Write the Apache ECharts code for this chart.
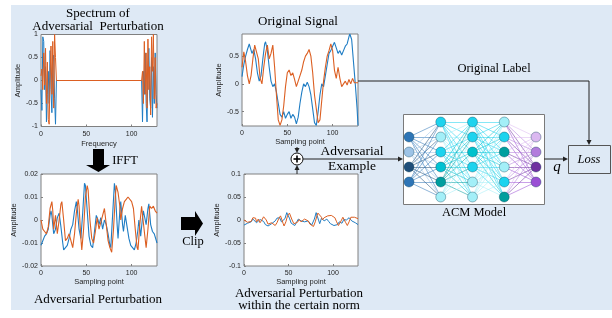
<!DOCTYPE html>
<html>
<head>
<meta charset="utf-8">
<script src="https://cdn.jsdelivr.net/npm/echarts@6/dist/echarts.min.js"></script>
<style>
body { margin: 0; background: #fff; }
#main { width: 612px; height: 318px; }
</style>
</head>
<body>
<div id="main"></div>
<script>
// spectrum of the perturbation, [bin, amplitude]
var specBlue = [[0,-0.2],[1,-0.65],[2,0.95],[3,0.85],[4,-0.2],[5,0.3],[6,-0.9],[7,-0.3],[8,0.2],[9,-0.5],[10,0.65],[11,-0.2],[12,-0.7],[13,0.4],[14,0.55],[15,-0.4],[16,-0.95],[17,0],
  [111,0],[112,-0.9],[113,0.2],[114,-0.3],[115,0.6],[116,-0.5],[117,-0.9],[118,0.2],[119,0.7],[120,-0.4],[121,-0.6],[122,0.5],[123,-0.8],[124,0.3],[125,-0.5],[126,0.6],[127,-0.3],[128,-0.6]];
var specOrange = [[0,0.1],[1,0.25],[2,-0.2],[3,0.6],[4,-0.1],[5,0.7],[6,-0.5],[7,0.4],[8,-0.85],[9,-0.95],[10,0.1],[11,0.75],[12,-0.3],[13,0.85],[14,-0.6],[15,1.0],[16,0.5],[17,0],
  [111,0],[112,0.2],[113,-0.5],[114,0.85],[115,-0.3],[116,0.6],[117,-0.6],[118,0.9],[119,-0.2],[120,0.3],[121,-0.75],[122,0.95],[123,0.2],[124,1.0],[125,-0.4],[126,0.5],[127,-0.6],[128,-0.5]];

// perturbation after IFFT (clip leaves it unchanged)
var pertBlue = [[0,-0.011],[2,-0.009],[4,-0.007],[6,-0.006],[8,-0.004],[10,0.002],[11,0.004],[12,0.002],[14,-0.006],[16,-0.004],[18,0.001],[20,0.003],[22,-0.003],[24,-0.01],[25,-0.013],[27,-0.013],[29,-0.011],[31,-0.008],[33,-0.004],[35,-0.002],[37,0.004],[39,0.008],[40,0.005],[42,-0.004],[44,-0.008],[46,0.003],[48,0.016],[49,0.015],[51,0.004],[53,-0.007],[55,-0.011],[57,-0.012],[59,-0.005],[61,0.002],[63,0.0],[64,-0.002],[66,0.001],[68,-0.004],[70,0.0],[72,-0.002],[74,-0.006],[76,-0.011],[77,-0.012],[79,0.002],[81,0.016],[82,0.013],[84,-0.002],[85,-0.008],[87,0.004],[88,0.008],[90,-0.002],[91,-0.005],[93,0.002],[95,-0.003],[97,-0.008],[99,-0.011],[101,-0.012],[103,-0.013],[105,-0.01],[107,-0.004],[108,0.0],[110,-0.007],[112,0.001],[113,0.004],[115,0.0],[116,-0.002],[118,0.005],[119,0.007],[121,-0.002],[123,-0.005],[125,-0.006],[128,-0.01]];
var pertOrange = [[0,0.0],[2,-0.004],[4,-0.005],[6,-0.006],[8,-0.003],[10,0.005],[12,0.008],[13,0.004],[14,-0.004],[16,0.002],[18,-0.006],[20,0.0],[22,0.007],[23,0.008],[25,0.0],[27,-0.009],[29,-0.008],[31,-0.006],[33,-0.009],[35,-0.012],[37,-0.006],[39,0.003],[41,0.009],[42,0.006],[44,-0.008],[45,-0.013],[47,-0.004],[49,0.01],[51,0.015],[52,0.013],[54,0.0],[56,-0.008],[58,-0.01],[60,-0.005],[62,0.001],[64,-0.004],[66,-0.001],[68,0.002],[70,0.005],[72,-0.002],[74,-0.009],[76,-0.012],[78,-0.014],[80,-0.004],[82,0.01],[83,0.015],[85,0.012],[87,0.006],[88,0.0],[90,0.005],[92,0.008],[94,0.009],[96,0.01],[98,0.01],[100,0.008],[102,0.005],[104,-0.004],[106,-0.012],[107,-0.013],[109,-0.002],[111,0.006],[112,0.006],[114,-0.005],[116,-0.012],[118,-0.004],[120,0.006],[122,0.005],[124,0.006],[126,0.004],[128,0.003]];

// original signal
var sigBlue = [[0,0.13],[2,0.35],[4,0.5],[6,0.62],[8,0.72],[9,0.7],[11,0.55],[13,0.62],[15,0.45],[17,0.2],[19,0.05],[21,0.15],[23,0.45],[25,0.72],[26,0.76],[28,0.6],[30,0.3],[32,0.05],[34,-0.05],[36,0.0],[38,-0.15],[40,-0.35],[42,-0.55],[44,-0.6],[46,-0.5],[48,-0.62],[50,-0.55],[52,-0.5],[54,-0.62],[56,-0.55],[58,-0.6],[60,-0.72],[62,-0.6],[64,-0.35],[66,-0.15],[68,0.0],[70,-0.05],[72,0.03],[74,-0.05],[76,-0.2],[78,-0.45],[80,-0.7],[82,-0.75],[84,-0.5],[86,-0.2],[88,0.0],[90,-0.05],[92,0.15],[94,0.35],[96,0.55],[98,0.6],[100,0.68],[102,0.75],[104,0.65],[106,0.55],[108,0.6],[110,0.52],[112,0.6],[114,0.68],[116,0.72],[118,0.85],[119,0.9],[121,0.8],[123,0.4],[125,0.0],[127,-0.45],[128,-0.75]];
var sigOrange = [[0,0.3],[2,0.58],[4,0.4],[6,0.15],[8,0.0],[10,0.15],[12,0.45],[14,0.7],[16,0.72],[18,0.45],[20,0.1],[22,0.0],[24,0.3],[26,0.55],[28,0.7],[30,0.45],[32,0.55],[34,0.7],[36,0.3],[38,-0.2],[40,-0.65],[42,-0.75],[44,-0.65],[46,-0.4],[48,-0.05],[50,0.2],[52,0.25],[54,0.15],[56,0.2],[58,0.08],[60,-0.05],[62,0.05],[64,0.15],[66,0.25],[68,0.4],[70,0.5],[72,0.55],[74,0.62],[76,0.5],[78,0.2],[80,-0.2],[82,-0.45],[84,-0.7],[86,-0.65],[88,-0.3],[90,0.05],[92,0.3],[94,0.5],[96,0.6],[98,0.72],[100,0.6],[102,0.25],[104,0.1],[106,0.3],[108,0.1],[110,-0.05],[112,0.0],[114,0.05],[116,-0.02],[118,0.08],[120,0.0],[122,0.1],[124,0.02],[126,0.05],[128,0.02]];

var xTicks = [0, 50, 100];

// ACM model node colours per layer
var layers = [
  ['#2e75b6', '#9dc3e6', '#1f4e79', '#2e75b6'],
  ['#1dd3ee', '#a3eff8', '#1dd3ee', '#00c2d2', '#009e9e', '#a3eff8'],
  ['#1dd3ee', '#1dd3ee', '#00c2cc', '#1dd3ee', '#a3eff8', '#a3eff8'],
  ['#a3eff8', '#1dd3ee', '#009e9e', '#a3eff8', '#1dd3ee', '#009e9e'],
  ['#dbb8f0', '#b27cdc', '#7030a0', '#9a4fd4']
];

var BLUE = '#1f7dc4', ORANGE = '#dc5f22';
var tickFont = 'Liberation Sans';

function xAx(grid, name, gap) {
  return {
    type: 'value', gridIndex: grid, min: 0, max: 128,
    name: name, nameLocation: 'middle', nameGap: gap,
    nameTextStyle: { fontSize: 7.5, color: '#262626', fontFamily: tickFont },
    axisLine: { show: false, onZero: false },
    axisTick: { inside: true, length: 2, customValues: xTicks, lineStyle: { color: '#808080' } },
    axisLabel: { customValues: xTicks, fontSize: 7, color: '#262626', margin: 4, fontFamily: tickFont },
    splitLine: { show: false }
  };
}
function yAx(grid, min, max, ticks, gap) {
  return {
    type: 'value', gridIndex: grid, min: min, max: max,
    name: 'Amplitude', nameLocation: 'middle', nameGap: gap, nameRotate: 90,
    nameTextStyle: { fontSize: 7.5, color: '#262626', fontFamily: tickFont },
    axisLine: { show: false, onZero: false },
    axisTick: { inside: true, length: 2, customValues: ticks, lineStyle: { color: '#808080' } },
    axisLabel: { customValues: ticks, fontSize: 7, color: '#262626', margin: 3, fontFamily: tickFont },
    splitLine: { show: false }
  };
}
function sig(idx, data, color, width) {
  return { type: 'line', xAxisIndex: idx, yAxisIndex: idx, data: data, showSymbol: false, symbol: 'none',
    smooth: false, lineStyle: { color: color, width: width }, silent: true, animation: false };
}

// network nodes / edges
var nodes = [], edges = [];
layers.forEach(function (cols, l) {
  cols.forEach(function (c, i) {
    nodes.push({ value: [l, i - (cols.length - 1) / 2], itemStyle: { color: c } });
  });
});
for (var l = 0; l < layers.length - 1; l++) {
  var a = layers[l], b = layers[l + 1];
  for (var i = 0; i < a.length; i++) {
    for (var j = 0; j < b.length; j++) {
      var c = l < 3 ? a[i] : b[j];
      edges.push({ coords: [[l, i - (a.length - 1) / 2], [l + 1, j - (b.length - 1) / 2]],
        lineStyle: { color: c, opacity: 0.6, width: 0.9 } });
    }
  }
}

function txt(x, y, s, size, extra) {
  var st = { text: s, font: (extra || '') + ' ' + size + 'px "Liberation Serif"', fill: '#000',
    textAlign: 'center', textVerticalAlign: 'middle', align: 'center', verticalAlign: 'middle' };
  return { type: 'text', x: x, y: y, style: st, z: 5 };
}
function line(pts) {
  return { type: 'polyline', shape: { points: pts }, style: { stroke: '#222', lineWidth: 1, fill: null }, z: 5 };
}
function head(x, y, dir) {
  var p;
  if (dir === 'down') p = [[x, y], [x - 2.5, y - 5], [x + 2.5, y - 5]];
  else if (dir === 'up') p = [[x, y], [x - 2.5, y + 5], [x + 2.5, y + 5]];
  else p = [[x, y], [x - 5, y - 2.5], [x - 5, y + 2.5]];
  return { type: 'polygon', shape: { points: p }, style: { fill: '#222' }, z: 5 };
}

var graphics = [
  { type: 'rect', shape: { x: 11, y: 5, width: 601, height: 305 }, style: { fill: '#dee9f5' }, z: -10 },
  { type: 'rect', shape: { x: 403.5, y: 114.5, width: 141, height: 90 }, style: { fill: '#fff', stroke: '#7a7a7a', lineWidth: 1 }, z: -5 },
  { type: 'rect', shape: { x: 568.5, y: 145.5, width: 42, height: 28 }, style: { fill: '#dee9f5', stroke: '#555', lineWidth: 1 }, z: 4 },
  // IFFT arrow
  { type: 'polygon', shape: { points: [[93,149],[104,149],[104,165],[110,165],[98.5,172],[86,165],[93,165]] }, style: { fill: '#000' }, z: 5 },
  // Clip arrow
  { type: 'polygon', shape: { points: [[181,217],[195,217],[195,211],[203,223.5],[195,236],[195,230],[181,230]] }, style: { fill: '#000' }, z: 5 },
  txt(98, 14, 'Spectrum of', 13),
  txt(98, 27, 'Adversarial  Perturbation', 13),
  txt(125, 161, 'IFFT', 12.5),
  txt(98, 300, 'Adversarial Perturbation', 13),
  txt(193, 242, 'Clip', 12.5),
  txt(298, 22, 'Original Signal', 13),
  txt(352, 151, 'Adversarial', 13.5),
  txt(352, 166, 'Example', 13.5),
  txt(299, 294, 'Adversarial Perturbation', 13),
  txt(299, 306, 'within the certain norm', 13),
  txt(494, 69, 'Original Label', 12.5),
  txt(474, 213, 'ACM Model', 12.5),
  txt(589, 160, 'Loss', 12.5, 'italic'),
  txt(557, 167, 'q', 15, 'italic'),
  // original label path
  line([[358, 81], [589, 81], [589, 140]]), head(589, 145, 'down'),
  // into the adder
  line([[297, 147], [297, 149]]), head(297, 153, 'down'),
  line([[297, 174], [297, 170]]), head(297, 165, 'up'),
  // adversarial example -> model -> loss
  line([[303, 159], [398, 159]]), head(403, 159, 'right'),
  line([[544, 159], [563, 159]]), head(568, 159, 'right'),
  { type: 'circle', shape: { cx: 297, cy: 159, r: 6 }, style: { fill: '#fff', stroke: '#111', lineWidth: 1 }, z: 5 },
  { type: 'line', shape: { x1: 293.5, y1: 159, x2: 300.5, y2: 159 }, style: { stroke: '#000', lineWidth: 1.6 }, z: 6 },
  { type: 'line', shape: { x1: 297, y1: 155.5, x2: 297, y2: 162.5 }, style: { stroke: '#000', lineWidth: 1.6 }, z: 6 }
];

var gridStyle = { show: true, backgroundColor: '#fff', borderColor: '#808080', borderWidth: 1 };
var chart = echarts.init(document.getElementById('main'));
chart.setOption({
  animation: false,
  graphic: graphics,
  grid: [
    Object.assign({ left: 41, top: 34.5, width: 116, height: 92 }, gridStyle),
    Object.assign({ left: 41, top: 174, width: 116, height: 92 }, gridStyle),
    Object.assign({ left: 242, top: 34, width: 116, height: 92 }, gridStyle),
    Object.assign({ left: 244, top: 174, width: 114, height: 92 }, gridStyle),
    { left: 409, top: 122, width: 127, height: 75, show: false }
  ],
  xAxis: [
    xAx(0, 'Frequency', 13),
    xAx(1, 'Sampling point', 11),
    xAx(2, 'Sampling point', 11),
    xAx(3, 'Sampling point', 11),
    { type: 'value', gridIndex: 4, min: 0, max: 4, show: false }
  ],
  yAxis: [
    yAx(0, -1, 1, [-1, -0.5, 0, 0.5, 1], 16),
    yAx(1, -0.02, 0.02, [-0.02, -0.01, 0, 0.01, 0.02], 20),
    yAx(2, -0.76, 0.9, [-0.5, 0, 0.5], 17),
    yAx(3, -0.1, 0.1, [-0.1, -0.05, 0, 0.05, 0.1], 20),
    { type: 'value', gridIndex: 4, min: -2.5, max: 2.5, inverse: true, show: false }
  ],
  series: [
    sig(0, specBlue, BLUE, 1),
    sig(0, specOrange, ORANGE, 1),
    sig(1, pertBlue, BLUE, 1.1),
    sig(1, pertOrange, ORANGE, 1.1),
    sig(2, sigBlue, BLUE, 1.1),
    sig(2, sigOrange, ORANGE, 1.1),
    sig(3, pertBlue, BLUE, 1),
    sig(3, pertOrange, ORANGE, 1),
    { type: 'lines', coordinateSystem: 'cartesian2d', xAxisIndex: 4, yAxisIndex: 4,
      data: edges, silent: true, animation: false, z: 3 },
    { type: 'scatter', xAxisIndex: 4, yAxisIndex: 4, data: nodes, symbolSize: 10,
      itemStyle: { borderColor: 'rgba(0,60,80,0.45)', borderWidth: 0.8, opacity: 1 },
      silent: true, animation: false, z: 4 }
  ]
});
</script>
</body>
</html>
